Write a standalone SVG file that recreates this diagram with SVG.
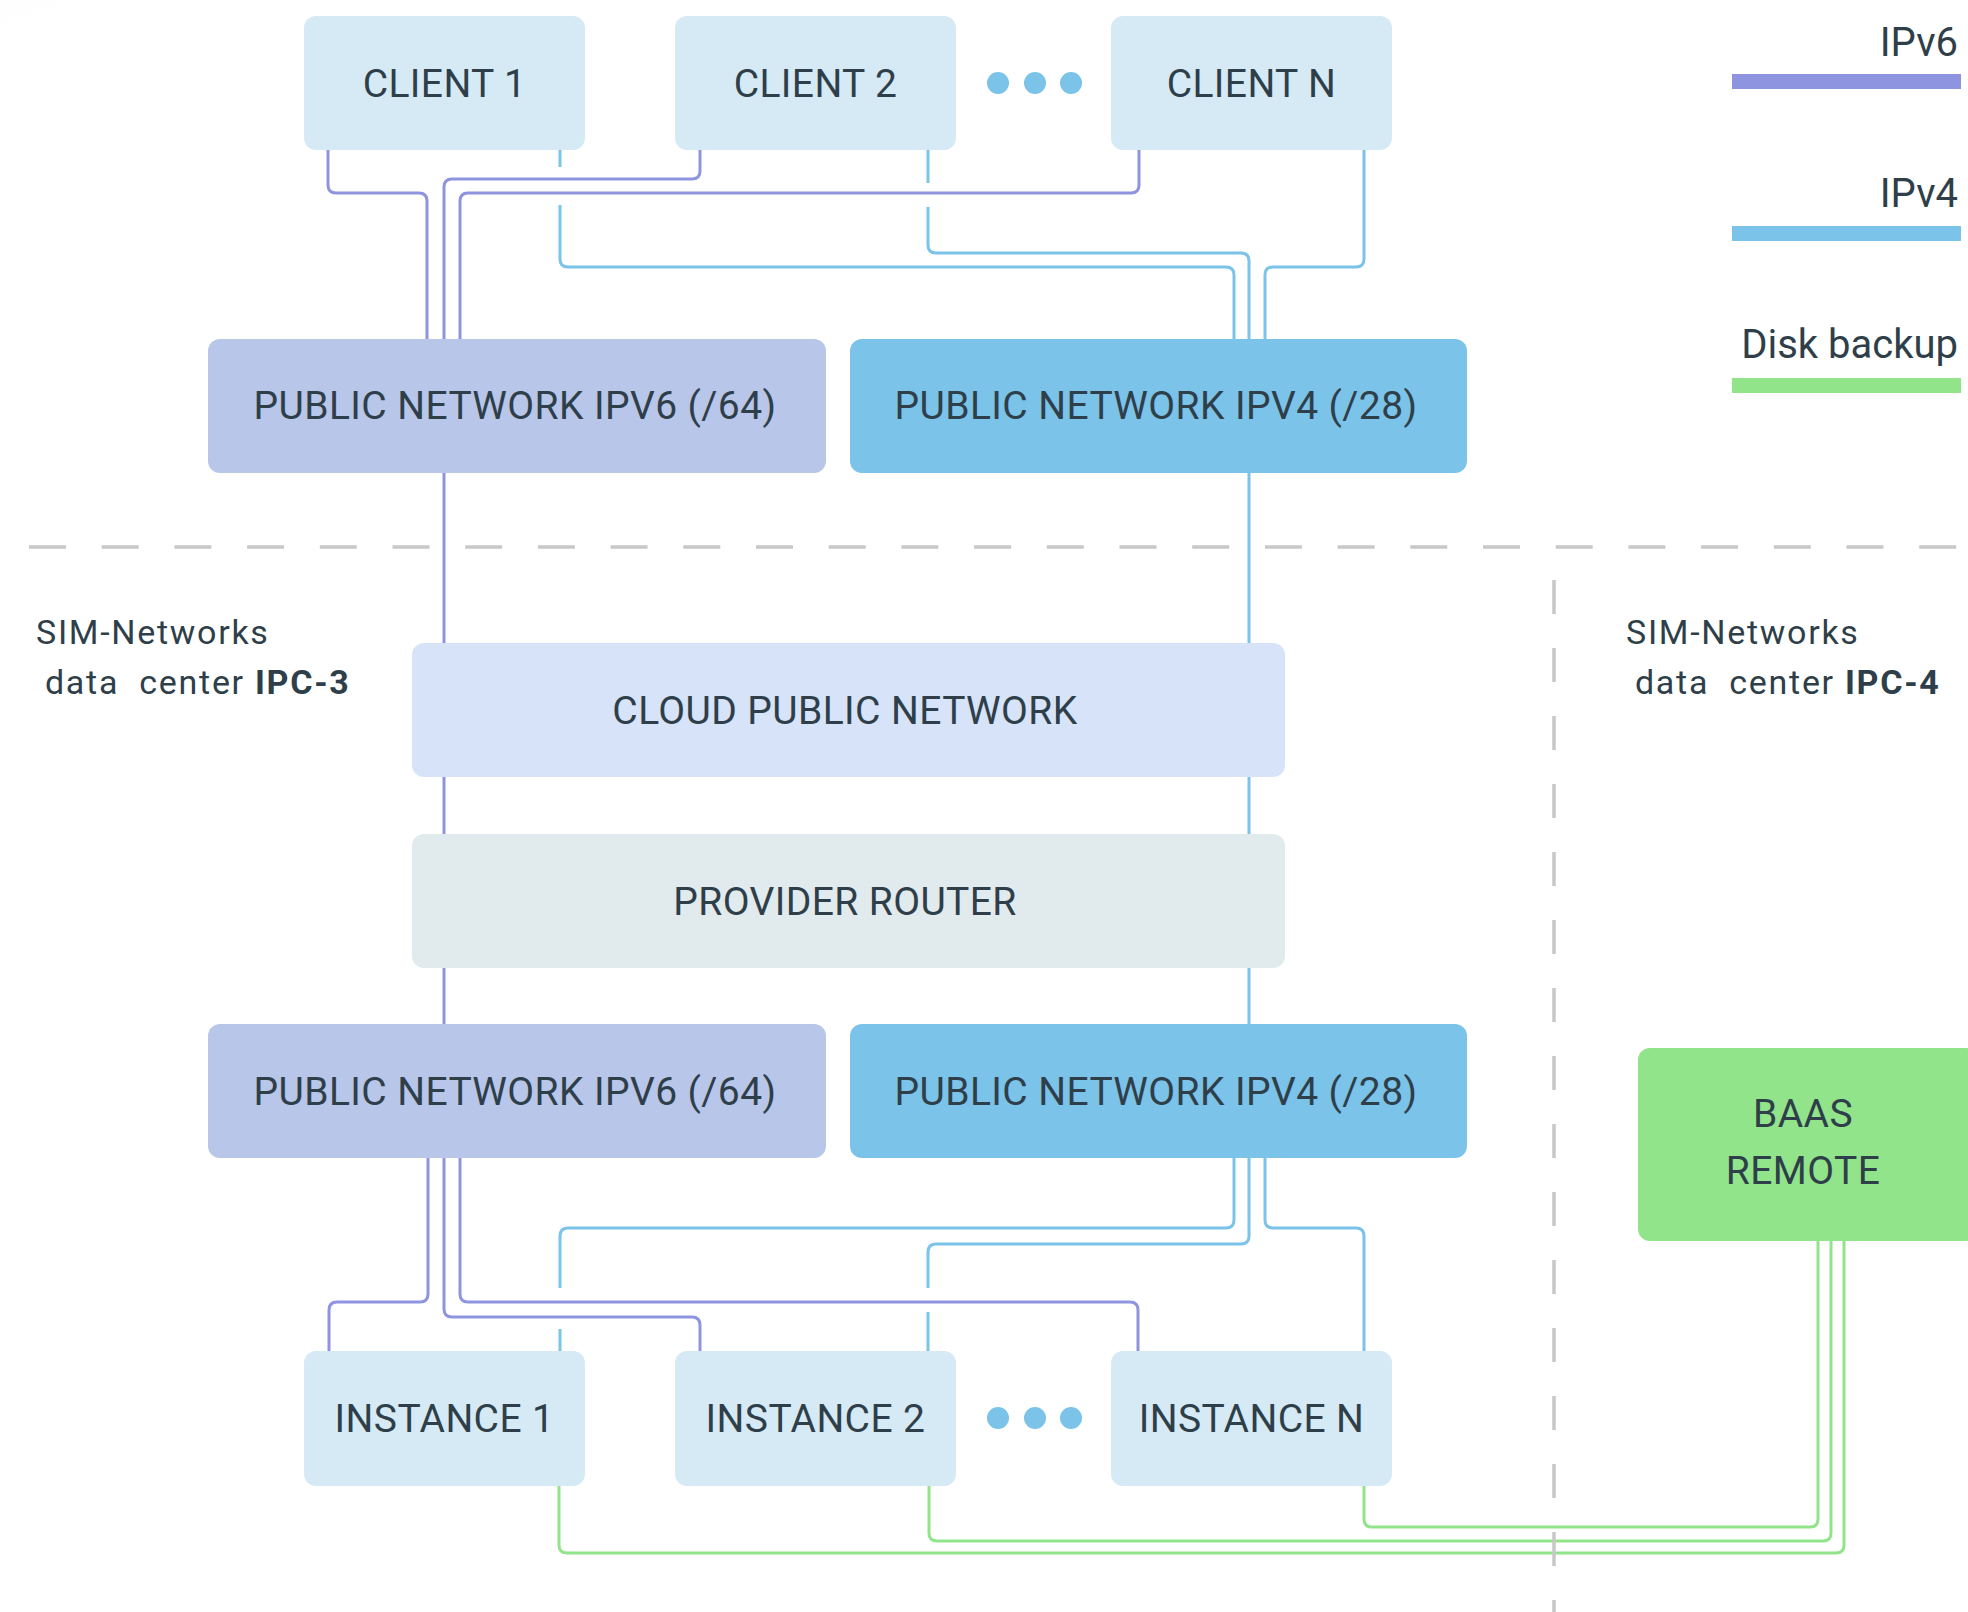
<svg xmlns="http://www.w3.org/2000/svg" width="1968" height="1612" viewBox="0 0 1968 1612">
  <style>
    .lbl { font-family: Roboto, "Liberation Sans", sans-serif; font-size: 39px; letter-spacing: 0.4px; fill: #2f3f4a; text-anchor: middle; }
    .legend { font-family: Roboto, "Liberation Sans", sans-serif; font-size: 40px; fill: #2f3f4a; text-anchor: end; }
    .dc { font-family: Roboto, "Liberation Sans", sans-serif; font-size: 34px; fill: #2f3f4a; letter-spacing: 1.7px; white-space: pre; }
    .dc tspan.b { font-weight: bold; }
    .client { fill: #d6eaf5; }
    .v6 { fill: #b8c6ea; }
    .v4 { fill: #7bc3e9; }
    .cloud { fill: #d6e3f8; }
    .router { fill: #e1eaed; }
    .baas { fill: #91e48a; }
    .dot { fill: #7bc3e9; }
    .w6 { fill: none; stroke: #8f94e0; stroke-width: 3; }
    .w4 { fill: none; stroke: #7bc3e9; stroke-width: 3; }
    .wb { fill: none; stroke: #91e48a; stroke-width: 3; }
    .sep { fill: none; stroke: #c8c8c8; stroke-width: 3.5; }
  </style>
  <defs>
    <radialGradient id="haze" cx="0" cy="0" r="1">
      <stop offset="0" stop-color="#eef0f3" stop-opacity="0.9"/>
      <stop offset="1" stop-color="#ffffff" stop-opacity="0"/>
    </radialGradient>
  </defs>

  <rect width="1968" height="1612" fill="#ffffff"/>
  <ellipse cx="0" cy="0" rx="280" ry="90" fill="url(#haze)"/>

  <!-- connectors -->
  <g id="connectors">
    <!-- clients to IPv6 -->
    <path class="w6" d="M328,150 V185 Q328,193 336,193 H419 Q427,193 427,201 V339"/>
    <path class="w6" d="M700,150 V171 Q700,179 692,179 H452 Q444,179 444,187 V339"/>
    <path class="w6" d="M1139,150 V185 Q1139,193 1131,193 H468 Q460,193 460,201 V339"/>
    <!-- clients to IPv4 -->
    <path class="w4" d="M560,150 V167 M560,205 V259 Q560,267 568,267 H1226 Q1234,267 1234,275 V339"/>
    <path class="w4" d="M928,150 V183 M928,207 V245 Q928,253 936,253 H1241 Q1249,253 1249,261 V339"/>
    <path class="w4" d="M1364,150 V259 Q1364,267 1356,267 H1273 Q1265,267 1265,275 V339"/>
    <!-- trunks through the data center -->
    <path class="w6" d="M444,473 V1024"/>
    <path class="w4" d="M1249,473 V1024"/>
    <!-- IPv6 to instances -->
    <path class="w6" d="M428,1158 V1294 Q428,1302 420,1302 H337 Q329,1302 329,1310 V1351"/>
    <path class="w6" d="M444,1158 V1309 Q444,1317 452,1317 H692 Q700,1317 700,1325 V1351"/>
    <path class="w6" d="M460,1158 V1294 Q460,1302 468,1302 H1130 Q1138,1302 1138,1310 V1351"/>
    <!-- IPv4 to instances -->
    <path class="w4" d="M1234,1158 V1220 Q1234,1228 1226,1228 H568 Q560,1228 560,1236 V1288 M560,1329 V1351"/>
    <path class="w4" d="M1249,1158 V1236 Q1249,1244 1241,1244 H936 Q928,1244 928,1252 V1288 M928,1312 V1351"/>
    <path class="w4" d="M1265,1158 V1220 Q1265,1228 1273,1228 H1356 Q1364,1228 1364,1236 V1351"/>
    <!-- disk backup -->
    <path class="wb" d="M559,1486 V1545 Q559,1553 567,1553 H1836 Q1844,1553 1844,1545 V1241"/>
    <path class="wb" d="M929,1486 V1533 Q929,1541 937,1541 H1823 Q1831,1541 1831,1533 V1241"/>
    <path class="wb" d="M1364,1486 V1519 Q1364,1527 1372,1527 H1810 Q1818,1527 1818,1519 V1241"/>
  </g>

  <!-- zone separators -->
  <g id="separators">
    <path class="sep" d="M29,547 H1962" stroke-dasharray="37 35.7"/>
    <path class="sep" d="M1554,580 V1612" stroke-dasharray="34 34"/>
  </g>

  <!-- clients -->
  <g id="client-1">
    <rect class="client" x="304" y="16" width="281" height="134" rx="12"/>
    <text class="lbl" x="444.5" y="97">CLIENT 1</text>
  </g>
  <g id="client-2">
    <rect class="client" x="675" y="16" width="281" height="134" rx="12"/>
    <text class="lbl" x="815.5" y="97">CLIENT 2</text>
  </g>
  <g id="client-dots">
    <circle class="dot" cx="998" cy="83" r="11"/>
    <circle class="dot" cx="1035" cy="83" r="11"/>
    <circle class="dot" cx="1071" cy="83" r="11"/>
  </g>
  <g id="client-n">
    <rect class="client" x="1111" y="16" width="281" height="134" rx="12"/>
    <text class="lbl" x="1251.5" y="97">CLIENT N</text>
  </g>

  <!-- upper public networks -->
  <g id="ipv6-top">
    <rect class="v6" x="208" y="339" width="618" height="134" rx="12"/>
    <text class="lbl" x="515" y="419">PUBLIC NETWORK IPV6 (/64)</text>
  </g>
  <g id="ipv4-top">
    <rect class="v4" x="850" y="339" width="617" height="134" rx="12"/>
    <text class="lbl" x="1156" y="419">PUBLIC NETWORK IPV4 (/28)</text>
  </g>

  <!-- data center core -->
  <g id="cloud-public-network">
    <rect class="cloud" x="412" y="643" width="873" height="134" rx="12"/>
    <text class="lbl" x="845" y="724">CLOUD PUBLIC NETWORK</text>
  </g>
  <g id="provider-router">
    <rect class="router" x="412" y="834" width="873" height="134" rx="12"/>
    <text class="lbl" x="845" y="915">PROVIDER ROUTER</text>
  </g>

  <!-- lower public networks -->
  <g id="ipv6-bottom">
    <rect class="v6" x="208" y="1024" width="618" height="134" rx="12"/>
    <text class="lbl" x="515" y="1105">PUBLIC NETWORK IPV6 (/64)</text>
  </g>
  <g id="ipv4-bottom">
    <rect class="v4" x="850" y="1024" width="617" height="134" rx="12"/>
    <text class="lbl" x="1156" y="1105">PUBLIC NETWORK IPV4 (/28)</text>
  </g>

  <!-- instances -->
  <g id="instance-1">
    <rect class="client" x="304" y="1351" width="281" height="135" rx="12"/>
    <text class="lbl" x="444.5" y="1432">INSTANCE 1</text>
  </g>
  <g id="instance-2">
    <rect class="client" x="675" y="1351" width="281" height="135" rx="12"/>
    <text class="lbl" x="815.5" y="1432">INSTANCE 2</text>
  </g>
  <g id="instance-dots">
    <circle class="dot" cx="998" cy="1418" r="11"/>
    <circle class="dot" cx="1035" cy="1418" r="11"/>
    <circle class="dot" cx="1071" cy="1418" r="11"/>
  </g>
  <g id="instance-n">
    <rect class="client" x="1111" y="1351" width="281" height="135" rx="12"/>
    <text class="lbl" x="1251.5" y="1432">INSTANCE N</text>
  </g>

  <!-- remote backup -->
  <g id="baas-remote">
    <rect class="baas" x="1638" y="1048" width="340" height="193" rx="12"/>
    <text class="lbl" x="1803" y="1127">BAAS</text>
    <text class="lbl" x="1803" y="1184">REMOTE</text>
  </g>

  <!-- data center captions -->
  <g id="dc-ipc3">
    <text class="dc" x="36" y="644">SIM-Networks</text>
    <text class="dc" x="45" y="694">data  center <tspan class="b">IPC-3</tspan></text>
  </g>
  <g id="dc-ipc4">
    <text class="dc" x="1626" y="644">SIM-Networks</text>
    <text class="dc" x="1635" y="694">data  center <tspan class="b">IPC-4</tspan></text>
  </g>

  <!-- legend -->
  <g id="legend">
    <text class="legend" x="1958" y="56">IPv6</text>
    <rect x="1732" y="74" width="229" height="15" fill="#8f94e0"/>
    <text class="legend" x="1958" y="207">IPv4</text>
    <rect x="1732" y="226" width="229" height="15" fill="#7bc3e9"/>
    <text class="legend" x="1958" y="358">Disk backup</text>
    <rect x="1732" y="378" width="229" height="15" fill="#91e48a"/>
  </g>
</svg>
